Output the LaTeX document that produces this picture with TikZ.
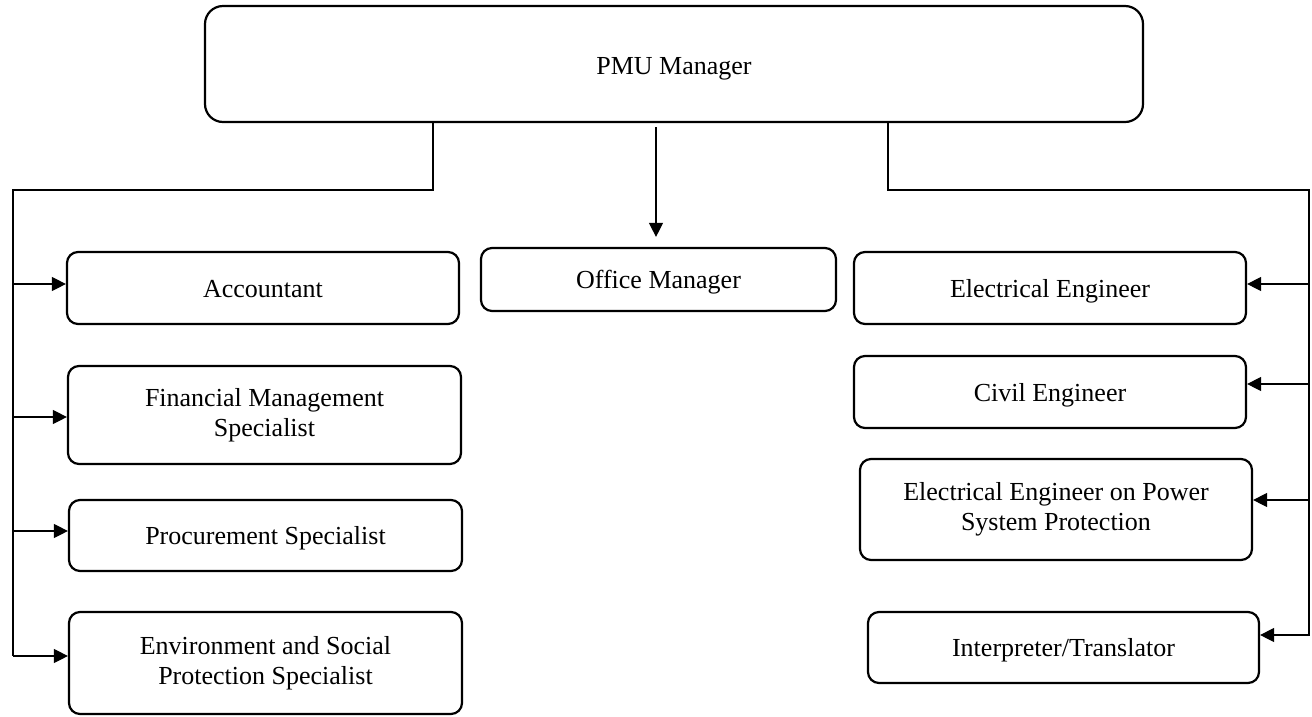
\documentclass[tikz,border=0pt]{standalone}
\usepackage{fontspec}
\setmainfont{Liberation Serif}
\usetikzlibrary{arrows.meta}
\begin{document}
\begin{tikzpicture}[x=1pt, y=-1pt,
box/.style = {draw, line width=2.2pt, rounded corners=11pt, align=center,
              inner sep=0pt, font=\fontsize{26}{30}\selectfont},
one/.style = {text height=24pt, text depth=6pt},
arr/.style = {-{Triangle[length=14pt,width=14pt]}, line width=1.2pt},
bus/.style = {line width=1.2pt}
                        ]
\useasboundingbox (0,0) rectangle (1312,716);
%
\node[box, one, text height=26pt, rounded corners=18pt, minimum width=938pt, minimum height=116pt] (pmu) at (674,64) {PMU Manager};
\node[box, one, minimum width=355pt, minimum height=63pt] (om) at (658.5,279.5) {Office Manager};
%
\node[box, one, minimum width=392pt, minimum height=72pt]  (acc)  at (263,288)     {Accountant};
\node[box, minimum width=393pt, minimum height=98pt]       (fin)  at (264.5,415)   {Financial Management\\ Specialist};
\node[box, one, minimum width=393pt, minimum height=71pt]  (proc) at (265.5,535.5) {Procurement Specialist};
\node[box, minimum width=393pt, minimum height=102pt]      (env)  at (265.5,663)   {Environment and Social\\ Protection Specialist};
%
\node[box, one, minimum width=392pt, minimum height=72pt]  (ee)   at (1050,288)    {Electrical Engineer};
\node[box, one, minimum width=392pt, minimum height=72pt]  (civ)  at (1050,392)    {Civil Engineer};
\node[box, minimum width=392pt, minimum height=101pt]      (eep)  at (1056,509.5)  {Electrical Engineer on Power\\ System Protection};
\node[box, one, minimum width=391pt, minimum height=71pt]  (intp) at (1063.5,647.5) {Interpreter/Translator};
%
\coordinate (lj) at (433,190);
\coordinate (lt) at (13,190);
\coordinate (lb) at (13,656);
\draw[bus] (pmu.south -| lj) -- (lj) -- (lt) -- (lb);
    \foreach \n/\y in {acc/284, fin/417, proc/531, env/656}
{
    \coordinate (l\n) at (13,\y);
    \draw[arr] (l\n) -- (l\n -| \n.west);
}
%
\coordinate (rj) at (888,190);
\coordinate (rt) at (1309,190);
\coordinate (rb) at (1309,636);
\draw[bus] (pmu.south -| rj) -- (rj) -- (rt) -- (rb);
    \foreach \n/\y in {ee/284, civ/384, eep/500, intp/635}
{
    \coordinate (r\n) at (1309,\y);
    \draw[arr] (r\n) -- (r\n -| \n.east);
}
%
\coordinate (mj) at (656,0);
\draw[arr, shorten <=4pt, shorten >=10pt] (pmu.south -| mj) -- (om.north -| mj);

\end{tikzpicture}
\end{document}
